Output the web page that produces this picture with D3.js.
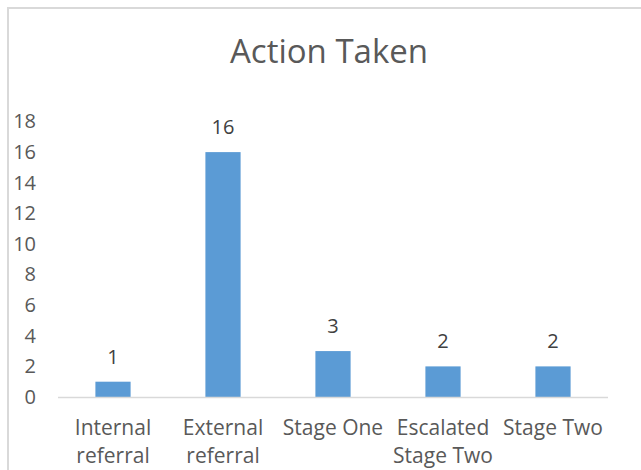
<!DOCTYPE html>
<html>
<head>
<meta charset="utf-8">
<script src="https://cdn.jsdelivr.net/npm/d3@7"></script>
<style>
  html, body { margin: 0; padding: 0; background: #fff; }
  svg { display: block; font-family: "Open Sans", "Noto Sans", sans-serif; }
</style>
</head>
<body>
<svg id="chart" width="641" height="470"></svg>
<script>
// Chart data
const categories = [["Internal", "referral"], ["External", "referral"], ["Stage One"], ["Escalated", "Stage Two"], ["Stage Two"]];
const values = [1, 16, 3, 2, 2];
const yTicks = [0, 2, 4, 6, 8, 10, 12, 14, 16, 18];
const title = "Action Taken";

const svg = d3.select("#chart");
const W = 641, H = 470;

// Outer chart frame (left and top edges visible)
svg.append("path")
  .attr("d", `M8,${H} L8,8 L${W},8`)
  .attr("fill", "none")
  .attr("stroke", "#d9d9d9")
  .attr("stroke-width", 2);

const x = d3.scaleBand()
  .domain(d3.range(categories.length))
  .range([58, 608])
  .paddingInner(0.68)
  .paddingOuter(0.34);

const y = d3.scaleLinear().domain([0, 18]).range([397, 121.5]);

// Title
svg.append("text")
  .attr("x", 329).attr("y", 63)
  .attr("text-anchor", "middle")
  .attr("font-size", 33)
  .attr("fill", "#595959")
  .text(title);

// Y axis labels (no axis line, no gridlines)
const yAxis = d3.axisLeft(y).tickValues(yTicks).tickSize(0).tickPadding(0);
const yG = svg.append("g").attr("transform", "translate(36,0)").call(yAxis);
yG.select(".domain").remove();
yG.selectAll("text")
  .attr("font-size", 20)
  .attr("font-family", "'Open Sans', 'Noto Sans', sans-serif")
  .attr("fill", "#595959");

// Bars
svg.append("g").selectAll("rect")
  .data(values)
  .join("rect")
  .attr("x", (d, i) => x(i))
  .attr("width", x.bandwidth())
  .attr("y", d => y(d))
  .attr("height", d => y(0) - y(d))
  .attr("fill", "#5b9bd5");

// Category axis line
svg.append("line")
  .attr("x1", 58).attr("x2", 608)
  .attr("y1", y(0) + 0.5).attr("y2", y(0) + 0.5)
  .attr("stroke", "#d9d9d9")
  .attr("stroke-width", 1.5);

// Value labels
svg.append("g").selectAll("text")
  .data(values)
  .join("text")
  .attr("x", (d, i) => x(i) + x.bandwidth() / 2)
  .attr("y", d => y(d) - 18)
  .attr("text-anchor", "middle")
  .attr("font-size", 20)
  .attr("fill", "#404040")
  .text(d => d);

// Category labels
const catG = svg.append("g").selectAll("text")
  .data(categories)
  .join("text")
  .attr("x", (d, i) => x(i) + x.bandwidth() / 2)
  .attr("y", 435)
  .attr("text-anchor", "middle")
  .attr("font-size", 21)
  .attr("fill", "#595959");
catG.selectAll("tspan")
  .data(d => d)
  .join("tspan")
  .attr("x", function() { return d3.select(this.parentNode).attr("x"); })
  .attr("dy", (d, i) => i === 0 ? 0 : 28)
  .text(d => d);
</script>
</body>
</html>
